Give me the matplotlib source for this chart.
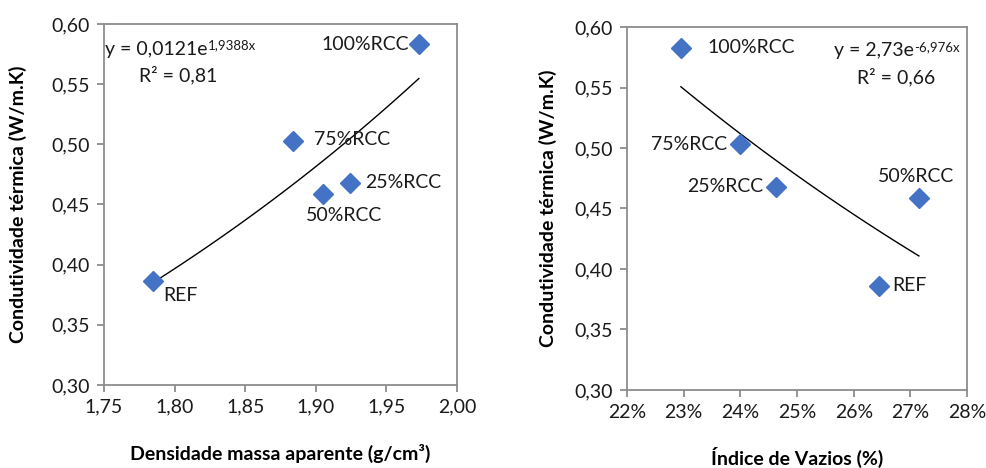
import numpy as np
from matplotlib import pyplot as plt
from matplotlib import rcParams
from matplotlib.ticker import FuncFormatter

rcParams["font.family"] = "Lato"

MIXES = ["REF", "25%RCC", "50%RCC", "75%RCC", "100%RCC"]
COND = [0.386, 0.468, 0.459, 0.503, 0.583]  # W/m.K
DENS = [1.785, 1.924, 1.905, 1.884, 1.973]  # g/cm3
VOIDS = [0.2644, 0.2463, 0.2715, 0.2399, 0.2295]  # fraction

# exponential trendlines y = a * exp(b x)
FIT_DENS = (0.0121, 1.9388)
FIT_VOIDS = (2.73, -6.976)

BLUE = "#4472C4"
GREY = "#8c8c8c"
TXT = "#1a1a1a"
FS = 14
FSL = 14

# label offsets in points (dx, dy, ha)
offs_dens = {
    "REF": (7, -10, "left"),
    "25%RCC": (11, 0, "left"),
    "50%RCC": (-12, -16, "left"),
    "75%RCC": (15, 1, "left"),
    "100%RCC": (-7, 0, "right"),
}
offs_voids = {
    "REF": (10, 0, "left"),
    "25%RCC": (-9, 0, "right"),
    "50%RCC": (-2, 15, "center"),
    "75%RCC": (-9, 0, "right"),
    "100%RCC": (19, 0, "left"),
}

fig = plt.figure(figsize=(9.87, 4.68), dpi=100)
ax1 = fig.add_axes([0.1054, 0.1774, 0.3576, 0.7713])
ax2 = fig.add_axes([0.6353, 0.1667, 0.3445, 0.7756])


def style(ax):
    for s in ax.spines.values():
        s.set_color(GREY)
        s.set_linewidth(1.3)
    ax.tick_params(direction="out", length=5, width=1.3, color=GREY,
                   labelsize=FS, labelcolor=TXT, pad=5)
    ax.set_ylim(0.30, 0.60)
    ax.set_yticks(np.arange(0.30, 0.601, 0.05))
    ax.yaxis.set_major_formatter(FuncFormatter(lambda v, p: f"{v:.2f}".replace(".", ",")))
    ax.set_ylabel("Condutividade térmica (W/m.K)", fontsize=FSL, fontweight="bold", va="center")


def draw(ax, x, fit, offs):
    x = np.asarray(x)
    xs = np.linspace(x.min(), x.max(), 100)
    ax.plot(xs, fit[0] * np.exp(fit[1] * xs), color="k", lw=1)
    ax.plot(x, COND, "D", color=BLUE, ms=10, mec=BLUE, zorder=3)
    for name, xi, yi in zip(MIXES, x, COND):
        dx, dy, ha = offs[name]
        ax.annotate(name, (xi, yi), xytext=(dx, dy), textcoords="offset points",
                    ha=ha, va="center", fontsize=FS, color=TXT)


def equation(ax, x, y, base, sup, r2, r2x):
    t = ax.text(x, y, base, transform=ax.transAxes, fontsize=FS,
                ha="left", va="center", color=TXT)
    ax.annotate(sup, xy=(1, 0.72), xycoords=t, ha="left", va="center",
                fontsize=9.5, color=TXT)
    ax.text(r2x, y - 0.072, r2, transform=ax.transAxes, fontsize=FS,
            ha="left", va="center", color=TXT)


# left: density
style(ax1)
draw(ax1, DENS, FIT_DENS, offs_dens)
ax1.set_xlim(1.75, 2.00)
ax1.set_xticks(np.arange(1.75, 2.001, 0.05))
ax1.xaxis.set_major_formatter(FuncFormatter(lambda v, p: f"{v:.2f}".replace(".", ",")))
ax1.set_xlabel("Densidade massa aparente (g/cm³)", fontsize=FSL, fontweight="bold", va="center")
ax1.xaxis.set_label_coords(0.5, -0.19)
ax1.yaxis.set_label_coords(-0.245, 0.5)
equation(ax1, 0.003, 0.93, "y = 0,0121e", "1,9388x", "R² = 0,81", 0.10)

# right: voids
style(ax2)
draw(ax2, VOIDS, FIT_VOIDS, offs_voids)
ax2.set_xlim(0.22, 0.28)
ax2.set_xticks(np.arange(0.22, 0.2801, 0.01))
ax2.xaxis.set_major_formatter(FuncFormatter(lambda v, p: f"{v * 100:.0f}%"))
ax2.set_xlabel("Índice de Vazios (%)", fontsize=FSL, fontweight="bold", va="center")
ax2.xaxis.set_label_coords(0.5, -0.185)
ax2.yaxis.set_label_coords(-0.232, 0.5)
equation(ax2, 0.61, 0.935, "y = 2,73e", "-6,976x", "R² = 0,66", 0.675)

fig.savefig("out.png", dpi=100)
